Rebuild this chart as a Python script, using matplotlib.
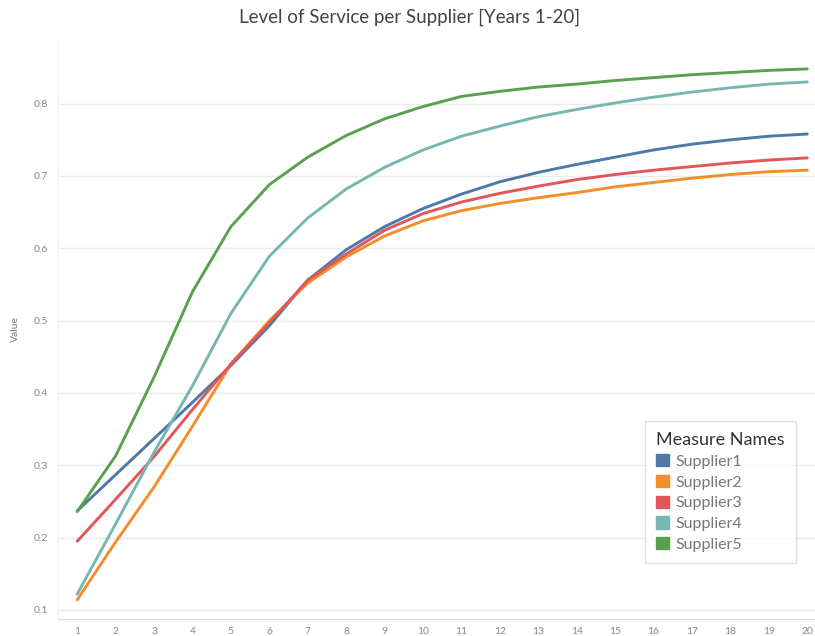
import matplotlib.pyplot as plt
from matplotlib.patches import Patch

years = list(range(1, 21))

supplier1 = [0.237, 0.287, 0.337, 0.387, 0.438, 0.493, 0.556, 0.598, 0.630, 0.655,
             0.675, 0.692, 0.705, 0.716, 0.726, 0.736, 0.744, 0.750, 0.755, 0.758]
supplier2 = [0.114, 0.194, 0.270, 0.354, 0.440, 0.500, 0.552, 0.588, 0.617, 0.638,
             0.652, 0.662, 0.670, 0.677, 0.685, 0.691, 0.697, 0.702, 0.706, 0.708]
supplier3 = [0.195, 0.253, 0.312, 0.377, 0.440, 0.497, 0.556, 0.592, 0.625, 0.648,
             0.664, 0.676, 0.686, 0.695, 0.702, 0.708, 0.713, 0.718, 0.722, 0.725]
supplier4 = [0.122, 0.219, 0.318, 0.410, 0.510, 0.589, 0.642, 0.682, 0.712, 0.736,
             0.755, 0.769, 0.782, 0.792, 0.801, 0.809, 0.816, 0.822, 0.827, 0.830]
supplier5 = [0.236, 0.313, 0.422, 0.540, 0.630, 0.688, 0.726, 0.756, 0.779, 0.796,
             0.810, 0.817, 0.823, 0.827, 0.832, 0.836, 0.840, 0.843, 0.846, 0.848]

names = ['Supplier1', 'Supplier2', 'Supplier3', 'Supplier4', 'Supplier5']
series = [supplier1, supplier2, supplier3, supplier4, supplier5]
colors = ['#4e79a7', '#f28e2b', '#e15759', '#76b7b2', '#59a14f']
yticks = [0.1, 0.2, 0.3, 0.4, 0.5, 0.6, 0.7, 0.8]

plt.rcParams['font.family'] = ['Lato', 'DejaVu Sans']

fig = plt.figure(figsize=(8.15, 6.36), dpi=100)
ax = fig.add_axes([58/815, 17/636, 757/815, 579/636])

for name, vals, c in zip(names, series, colors):
    ax.plot(years, vals, color=c, linewidth=2.1, solid_capstyle='round')

ax.set_xlim(0.5, 20.2)
ax.set_ylim(0.0875, 0.888)
ax.set_xticks(years)
ax.set_xticklabels([str(y) for y in years])
ax.set_yticks(yticks)
ax.set_yticklabels([f'{v:.1f}' for v in yticks])
ax.tick_params(length=0, labelsize=7.5, colors='#888888')
ax.tick_params(axis='x', pad=6)
ax.tick_params(axis='y', pad=7)
ax.grid(axis='y', color='#ebebeb', linewidth=1)
ax.set_axisbelow(True)
for side in ['top', 'right']:
    ax.spines[side].set_visible(False)
ax.spines['left'].set_color('#f0f0f0')
ax.spines['bottom'].set_color('#dddddd')
ax.set_ylabel('Value', fontsize=7.5, color='#777777', labelpad=10)

fig.text(0.503, 0.972, 'Level of Service per Supplier [Years 1-20]',
         ha='center', va='center', fontsize=13.5, color='#444444')

handles = [Patch(facecolor=c, edgecolor=c, label=n) for n, c in zip(names, colors)]
leg = ax.legend(handles=handles, title='Measure Names', loc='lower left',
                bbox_to_anchor=(645/815, 73/636), bbox_transform=fig.transFigure,
                frameon=True, fancybox=False, edgecolor='#d8d8d8',
                fontsize=11.5, title_fontsize=13, alignment='left',
                handlelength=0.8, handleheight=0.8, handletextpad=0.4,
                labelspacing=0.38, borderpad=0.7, borderaxespad=0)
leg.get_frame().set_linewidth(1)
for t in leg.get_texts():
    t.set_color('#777777')
leg.get_title().set_color('#333333')

fig.savefig('out.png', dpi=100)
